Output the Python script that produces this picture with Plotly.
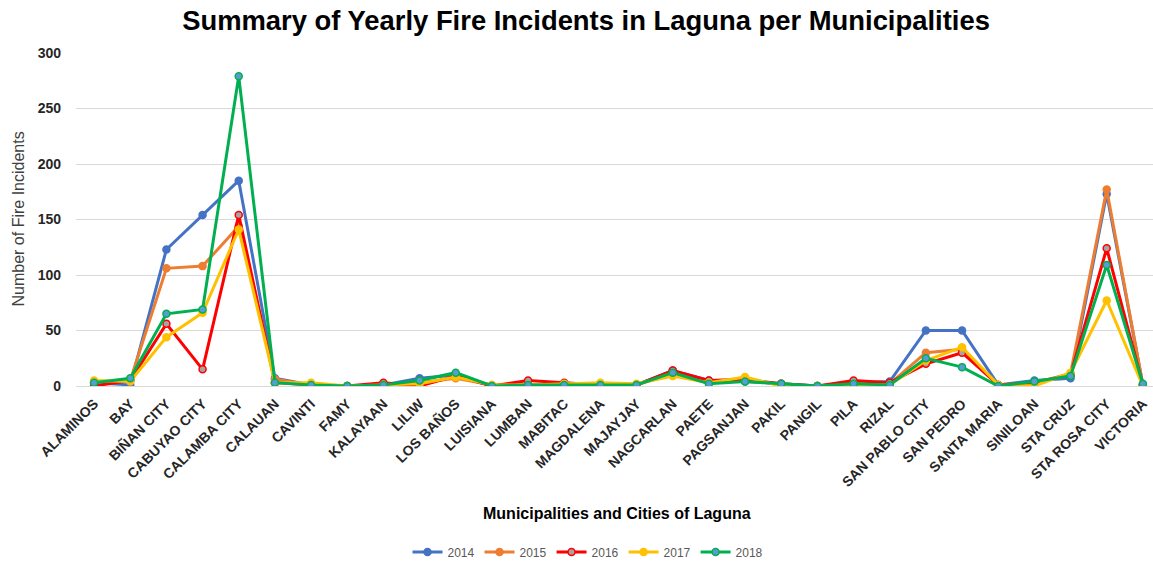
import plotly.graph_objects as go

categories = ["ALAMINOS", "BAY", "BIÑAN CITY", "CABUYAO CITY", "CALAMBA CITY", "CALAUAN",
              "CAVINTI", "FAMY", "KALAYAAN", "LILIW", "LOS BAÑOS", "LUISIANA", "LUMBAN",
              "MABITAC", "MAGDALENA", "MAJAYJAY", "NAGCARLAN", "PAETE", "PAGSANJAN", "PAKIL",
              "PANGIL", "PILA", "RIZAL", "SAN PABLO CITY", "SAN PEDRO", "SANTA MARIA",
              "SINILOAN", "STA CRUZ", "STA ROSA CITY", "VICTORIA"]

y2014 = [3, 1, 123, 154, 185, 7, 1, 0, 1, 7, 10, 0, 1, 1, 1, 1, 14, 5, 4, 2, 0, 3, 4, 50, 50, 1, 5, 7, 173, 1]
y2015 = [3, 5, 106, 108, 144, 6, 1, 0, 1, 3, 7, 1, 1, 1, 1, 1, 11, 3, 6, 1, 0, 2, 2, 30, 33, 1, 3, 11, 177, 1]
y2016 = [0, 5, 56, 15, 154, 3, 1, 0, 3, 0, 9, 0, 5, 3, 1, 1, 14, 5, 6, 2, 0, 5, 3, 20, 30, 1, 3, 10, 124, 1]
y2017 = [5, 4, 44, 66, 141, 3, 3, 0, 1, 2, 8, 1, 1, 2, 3, 2, 9, 3, 8, 0, 0, 1, 1, 23, 35, 1, 0, 12, 77, 0]
y2018 = [3, 7, 65, 69, 279, 3, 1, 0, 1, 5, 12, 0, 1, 1, 1, 1, 12, 2, 4, 2, 0, 2, 1, 25, 17, 0, 4, 9, 109, 2]

series = [
    ("2014", y2014, "#4472C4", "#4472C4"),
    ("2015", y2015, "#ED7D31", "#ED7D31"),
    ("2016", y2016, "#FF0000", "#A5A5A5"),
    ("2017", y2017, "#FFC000", "#FFC000"),
    ("2018", y2018, "#00B050", "#5B9BD5"),
]

FONT = "Liberation Sans, Arial, sans-serif"

fig = go.Figure()
for name, vals, lc, mc in series:
    fig.add_trace(go.Scatter(
        x=categories, y=vals, name=name, mode="lines+markers",
        line=dict(color=lc, width=3),
        marker=dict(size=7, color=mc, line=dict(color=lc, width=1.5)),
    ))

W, H = 1153, 562
L, R, T, B = 76, 0, 53, 176
pw = W - L - R
ph = H - T - B

fig.update_layout(
    width=W, height=H,
    margin=dict(l=L, r=R, t=T, b=B, autoexpand=False),
    paper_bgcolor="white", plot_bgcolor="white",
    font=dict(family=FONT, color="#404040"),
    title=dict(text="<b>Summary of Yearly Fire Incidents in Laguna per Municipalities</b>",
               x=586 / W, xanchor="center", y=1 - 20 / H, yanchor="middle",
               font=dict(size=27.4, color="#000000", family=FONT)),
    xaxis=dict(
        type="category", range=[-0.5, 29.28],
        tickangle=-45, showgrid=False, showline=False, ticks="",
        ticklabelstandoff=6,
        tickfont=dict(size=14, color="#262626", family=FONT, weight="bold"),
    ),
    yaxis=dict(
        range=[0, 300], dtick=50, showgrid=True, gridcolor="#D9D9D9", gridwidth=1,
        zeroline=True, zerolinecolor="#D9D9D9", zerolinewidth=1,
        showline=False, ticks="", ticklabelstandoff=14,
        tickfont=dict(size=14, color="#262626", family=FONT, weight="bold"),
    ),
    showlegend=True,
    legend=dict(orientation="h", x=(588 - L) / pw, xanchor="center",
                y=(T + ph - 552) / ph, yanchor="middle",
                font=dict(size=12, color="#595959", family=FONT),
                itemwidth=30, traceorder="normal"),
    annotations=[
        dict(text="<b>Municipalities and Cities of Laguna</b>", xref="paper", yref="paper",
             x=(617 - L) / pw, y=(T + ph - 513) / ph, xanchor="center", yanchor="middle",
             showarrow=False, font=dict(size=16, color="#000000", family=FONT)),
        dict(text="Number of Fire Incidents", xref="paper", yref="paper",
             x=(18 - L) / pw, y=0.5, xanchor="center", yanchor="middle", textangle=-90,
             showarrow=False, font=dict(size=16, color="#404040", family=FONT)),
    ],
)

fig.write_html("out.html", config={"displayModeBar": False},
               post_script="document.body.style.margin='0';document.body.style.overflow='hidden';")
